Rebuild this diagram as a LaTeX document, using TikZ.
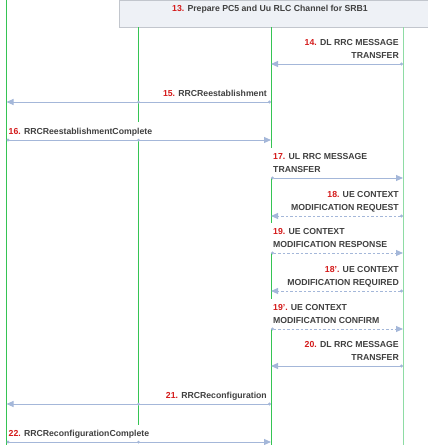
\documentclass[tikz,border=0pt]{standalone}
\usepackage{fontspec}
\setmainfont{Liberation Sans}
\usetikzlibrary{arrows.meta}
\definecolor{lifegreen}{HTML}{35C453}
\definecolor{lifelight}{HTML}{8EDCA4}
\definecolor{msgblue}{HTML}{A4B7D9}
\definecolor{msgtext}{HTML}{404040}
\definecolor{stepred}{HTML}{D41A1A}
\definecolor{boxfill}{HTML}{EEF1F6}
\definecolor{boxline}{HTML}{C2C6CD}
\newcommand{\stepno}[1]{\textcolor{stepred}{#1.}}

\begin{document}
\begin{tikzpicture}[x=1pt,y=-1pt,>=Stealth,
  life/.style={lifegreen,line width=1pt},
  msg/.style={msgblue,line width=1pt,{Circle[length=3pt]}-{Triangle[length=7pt,width=6pt]}},
  dmsg/.style={msg,dash pattern=on 2.5pt off 2pt},
  lbl/.style={text=msgtext,font=\fontsize{8.7}{13}\selectfont\bfseries,
    inner xsep=2pt,inner ysep=5.5pt,text depth=0pt},
  lblL/.style={lbl,fill=white,anchor=south west,align=left},
  lblR/.style={lbl,fill=white,anchor=south east,align=right,xshift=-2pt},
  dot/.style={fill=msgblue}]
  \useasboundingbox (0,0) rectangle (428,445);

  % step 13 box
  \draw[fill=boxfill,draw=boxline] (119,0.5) rectangle (432,27);
  \node[lbl] (prep) at (270,8) {\stepno{13} Prepare PC5 and Uu RLC Channel for SRB1};

  % lifelines
  \coordinate (ueT) at (6.5,0);    \coordinate (ueB) at (6.5,445);
  \coordinate (rlT) at (138.5,27); \coordinate (rlB) at (138.5,428);
  \coordinate (duT) at (271,27);   \coordinate (duB) at (271,445);
  \coordinate (cuT) at (403,27);   \coordinate (cuB) at (403,445);
  \draw[life] (ueT) -- (ueB);
  \draw[life] (rlT) -- (rlB);
  \draw[life] (duT) -- (duB);
  \draw[life,lifelight] (cuT) -- (cuB);

  \foreach \n/\y in {14/64,15/102,16/140,17/178,18/216,19/253,18b/291,19b/329,20/366,21/404,22/442} {
    \coordinate (ue\n) at (6.5,\y);
    \coordinate (rl\n) at (138.5,\y);
    \coordinate (du\n) at (271,\y);
    \coordinate (cu\n) at (403,\y);
  }

  % labels first, so the arrows stay on top
  \node[lblR] (t14) at (cu14) {\stepno{14} DL RRC MESSAGE\\TRANSFER};
  \node[lblR] (t15) at (du15) {\stepno{15} RRCReestablishment};
  \node[lblL] (t16) at (ue16) {\stepno{16} RRCReestablishmentComplete};
  \node[lblL] (t17) at (du17) {\stepno{17} UL RRC MESSAGE\\TRANSFER};
  \node[lblR] (t18) at (cu18) {\stepno{18} UE CONTEXT\\MODIFICATION REQUEST};
  \node[lblL] (t19) at (du19) {\stepno{19} UE CONTEXT\\MODIFICATION RESPONSE};
  \node[lblR] (t18b) at (cu18b) {\stepno{18'} UE CONTEXT\\MODIFICATION REQUIRED};
  \node[lblL] (t19b) at (du19b) {\stepno{19'} UE CONTEXT\\MODIFICATION CONFIRM};
  \node[lblR] (t20) at (cu20) {\stepno{20} DL RRC MESSAGE\\TRANSFER};
  \node[lblR] (t21) at (du21) {\stepno{21} RRCReconfiguration};
  \node[lblL] (t22) at (ue22) {\stepno{22} RRCReconfigurationComplete};

  % messages
  \draw[msg] (cu14) -- (du14);
  \draw[msg] (du15) -- (ue15);
  \draw[msg] (ue16) -- (du16);
  \draw[msg] (du17) -- (cu17);
  \draw[dmsg] (cu18) -- (du18);
  \draw[dmsg] (du19) -- (cu19);
  \draw[dmsg] (cu18b) -- (du18b);
  \draw[dmsg] (du19b) -- (cu19b);
  \draw[msg] (cu20) -- (du20);
  \draw[msg] (du21) -- (ue21);
  \draw[msg] (ue22) -- (du22);

  % crossings on the relay lifeline
  \foreach \n in {15,16,21,22}
    \fill[dot] (rl\n) circle (1.5pt);
\end{tikzpicture}
\end{document}
